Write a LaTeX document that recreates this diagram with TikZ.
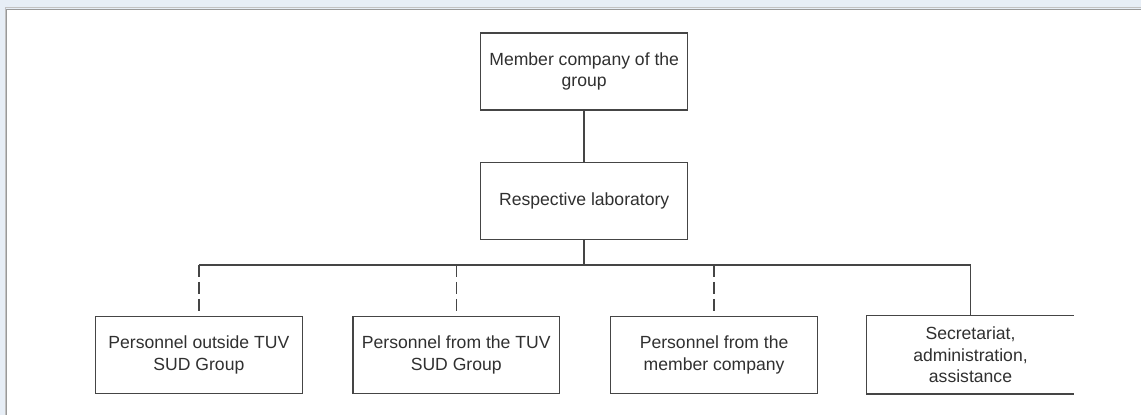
\documentclass[tikz,border=0pt]{standalone}
\usepackage{fontspec}
\setmainfont{Liberation Sans}
\definecolor{linegray}{HTML}{454545}
\definecolor{textgray}{HTML}{303030}
\definecolor{panelblue}{HTML}{E7EEF6}
\definecolor{rimgray}{HTML}{999999}
\begin{document}
\begin{tikzpicture}[x=1pt,y=-1pt,
  orgbox/.style={draw=linegray, line width=1.4pt, minimum width=207pt,
    minimum height=77pt, inner sep=0pt, align=center, text=textgray,
    font=\fontsize{17.6}{21.5}\selectfont},
  link/.style={draw=linegray, line width=1.5pt},
  dashlink/.style={link, dash pattern=on 12pt off 5pt}]
  % page background and inset white panel
  \fill[panelblue] (0,0) rectangle (1142,415);
  \fill[white] (6,9) rectangle (1142,415);
  \draw[rimgray!60, line width=1pt] (5.5,415) -- (5.5,8) -- (1142,8);
  \draw[rimgray, line width=1.2pt] (6.8,415) -- (6.8,9.4) -- (1142,9.4);
  \useasboundingbox (0,0) rectangle (1142,415);

  % hierarchy
  \node[orgbox] (top) at (584.5,71.5) {Member company of the\\group};
  \node[orgbox] (lab) at (584.5,201) {Respective laboratory};
  \node[orgbox] (p1) at (199,355) {Personnel outside TUV\\SUD Group};
  \node[orgbox] (p2) at (456.5,355) {Personnel from the TUV\\SUD Group};
  \node[orgbox] (p3) at (714.5,355) {Personnel from the\\member company};
  \node[orgbox, draw=none] (p4) at (971,355) {Secretariat,\\administration,\\assistance};
  % last box is open on its right side
  \draw[link, line width=1.4pt] ([xshift=-1pt]p4.north east) -- (p4.north west)
    -- (p4.south west) -- ([xshift=-1pt]p4.south east);

  % connectors
  \coordinate (hub) at (584.5,265);
  \coordinate (d1) at (p1.north |- hub);
  \coordinate (d2) at (p2.north |- hub);
  \coordinate (d3) at (p3.north |- hub);
  \coordinate (d4) at (p4.north |- hub);
  \draw[link] (top) -- (lab);
  \draw[link] (lab) -- (hub);
  \draw[link] (d1) -- (d4);
  \draw[dashlink] (d1) -- (p1);
  \draw[dashlink] (d2) -- (p2);
  \draw[dashlink] (d3) -- (p3);
  \draw[link] (d4) -- (p4.north);
\end{tikzpicture}
\end{document}
